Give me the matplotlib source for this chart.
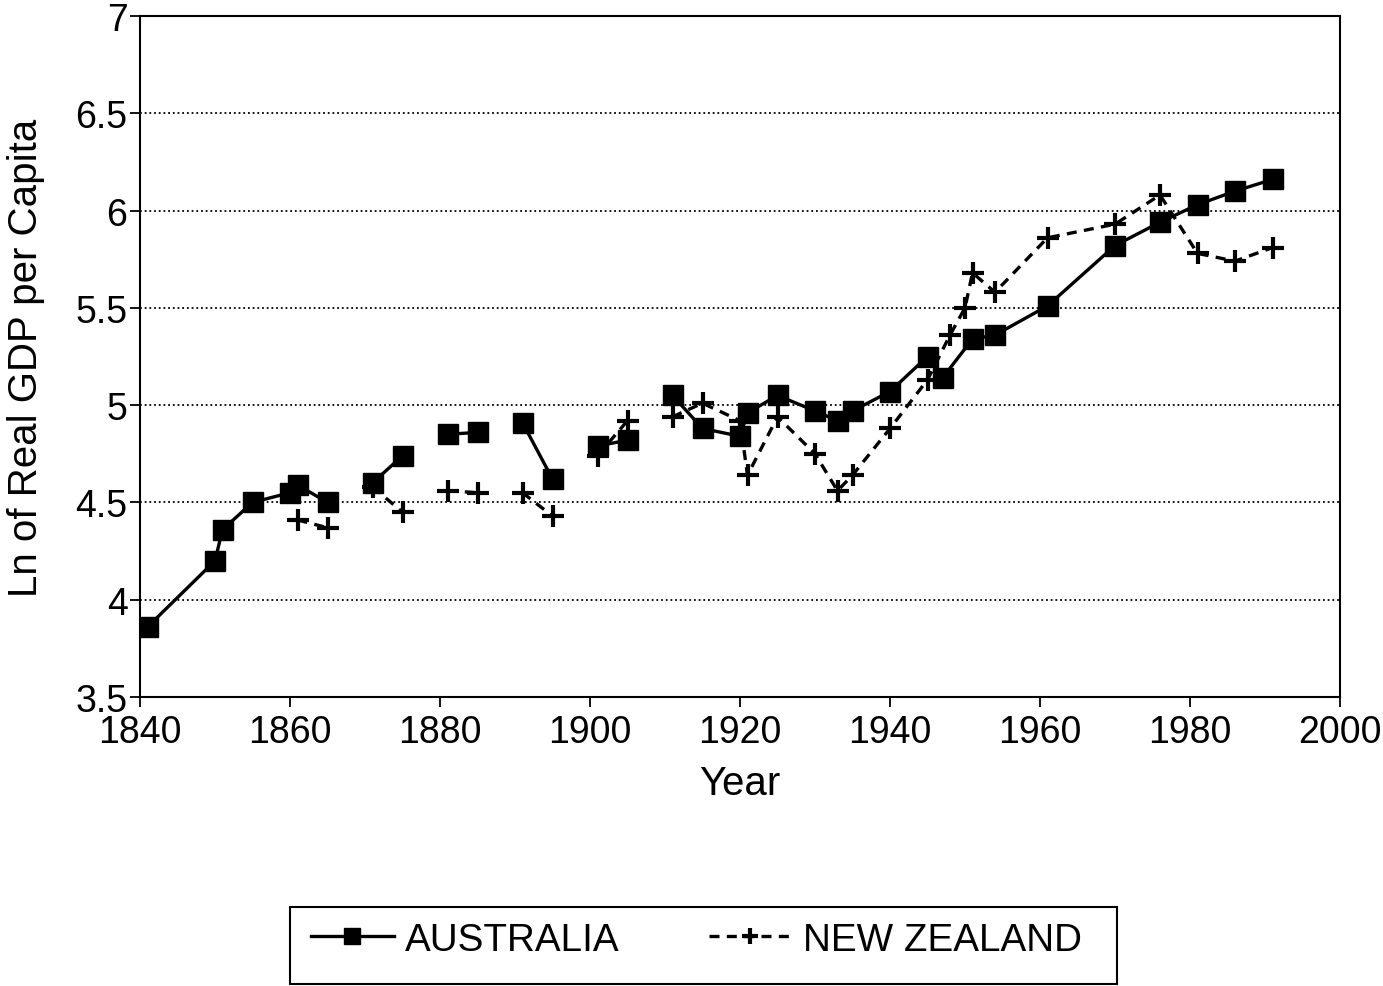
import numpy as np
import matplotlib
matplotlib.use("Agg")
import matplotlib.pyplot as plt
from matplotlib.patches import Rectangle

plt.rcParams['font.family'] = ['Liberation Sans', 'DejaVu Sans']

nan = np.nan
aus_years = [1841, 1850, 1851, 1855, 1860, 1861, 1865, 1868, 1871, 1875, 1878, 1881, 1885, 1888,
             1891, 1895, 1898, 1901, 1905, 1908, 1911, 1915, 1920, 1921, 1925, 1930, 1933, 1935,
             1940, 1945, 1947, 1951, 1954, 1961, 1970, 1976, 1981, 1986, 1991]
aus_vals = [3.86, 4.20, 4.36, 4.50, 4.55, 4.59, 4.50, nan, 4.60, 4.74, nan, 4.85, 4.86, nan,
            4.91, 4.62, nan, 4.79, 4.82, nan, 5.05, 4.88, 4.84, 4.96, 5.05, 4.97, 4.92, 4.97,
            5.07, 5.25, 5.14, 5.34, 5.36, 5.51, 5.82, 5.94, 6.03, 6.10, 6.16]

nz_years = [1861, 1865, 1868, 1871, 1875, 1878, 1881, 1885, 1888, 1891, 1895, 1898, 1901, 1905,
            1908, 1911, 1915, 1920, 1921, 1925, 1930, 1933, 1935, 1940, 1945, 1948, 1950, 1951,
            1954, 1961, 1970, 1976, 1981, 1986, 1991]
nz_vals = [4.41, 4.37, nan, 4.58, 4.45, nan, 4.56, 4.55, nan, 4.55, 4.43, nan, 4.74, 4.92,
           nan, 4.94, 5.01, 4.92, 4.64, 4.94, 4.75, 4.56, 4.64, 4.88, 5.13, 5.36, 5.50, 5.68,
           5.58, 5.86, 5.93, 6.08, 5.78, 5.74, 5.81]

series_labels = ["AUSTRALIA", "NEW ZEALAND"]
x_ticks = [1840, 1860, 1880, 1900, 1920, 1940, 1960, 1980, 2000]
y_ticks = [3.5, 4, 4.5, 5, 5.5, 6, 6.5, 7]
y_ticklabels = ["3.5", "4", "4.5", "5", "5.5", "6", "6.5", "7"]

fig = plt.figure(figsize=(13.83, 9.87), dpi=100)
ax = fig.add_axes([140/1383, 1-698/987, 1200/1383, 681/987])

for y in y_ticks[1:-1]:
    ax.axhline(y, color='black', lw=1.3, ls=(0, (1.0, 1.6)), zorder=1)

l1, = ax.plot(aus_years, aus_vals, color='black', lw=2.4, marker='s', ms=15,
              mfc='black', mec='black', label=series_labels[0], zorder=3)
l2, = ax.plot(nz_years, nz_vals, color='black', lw=2.4, ls=(0, (3, 2.2)), marker='+', ms=16,
              mew=3, label=series_labels[1], zorder=4)

ax.set_xlim(1840, 2000)
ax.set_ylim(3.5, 7)
ax.set_xticks(x_ticks)
ax.set_yticks(y_ticks)
ax.set_yticklabels(y_ticklabels)
ax.tick_params(axis='both', labelsize=27, direction='out', length=7, width=1.3)
ax.tick_params(axis='y', pad=2)
ax.tick_params(axis='x', pad=5)
for s in ax.spines.values():
    s.set_linewidth(1.5)
ax.set_xlabel("Year", fontsize=29, labelpad=10)
ax.set_ylabel("Ln of Real GDP per Capita", fontsize=29, labelpad=22)

fig.patches.append(Rectangle((290/1383, 1-985/987), 827/1383, 77/987, transform=fig.transFigure,
                             fill=False, ec='black', lw=1.5))
fig.legend(handles=[l1, l2], loc='upper left', bbox_to_anchor=(276/1383, 1-888/987),
           ncol=2, frameon=False, fontsize=27.8, handlelength=2.15, columnspacing=2.3,
           handletextpad=0.3, markerscale=0.75)

fig.savefig("out.png", dpi=100)
